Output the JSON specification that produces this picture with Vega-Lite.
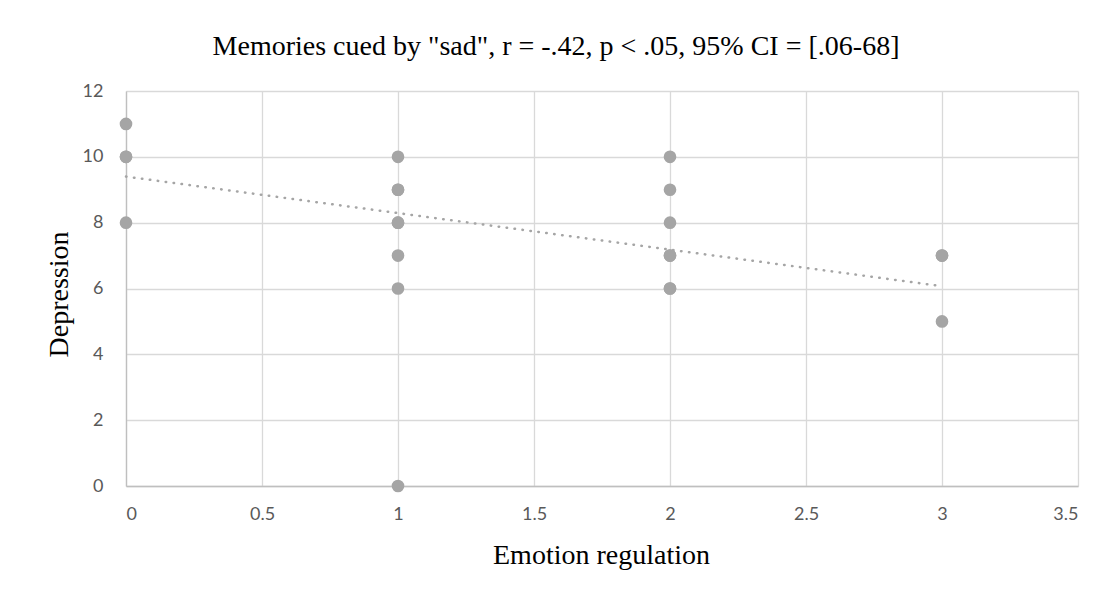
{
  "$schema": "https://vega.github.io/schema/vega-lite/v6.json",
  "width": 952,
  "height": 395,
  "autosize": {"type": "none"},
  "padding": {"left": 126, "top": 91, "right": 30, "bottom": 113},
  "background": "white",
  "config": {"view": {"stroke": null}},
  "title": {
    "text": "Memories cued by \"sad\", r = -.42, p < .05, 95% CI = [.06-68]",
    "font": "Liberation Serif",
    "fontSize": 28,
    "fontWeight": "normal",
    "color": "#000000",
    "anchor": "middle",
    "frame": "group",
    "baseline": "alphabetic",
    "offset": -1,
    "dx": -46
  },
  "datasets": {
    "pts": [
      {"er": 0, "dep": 11}, {"er": 0, "dep": 10}, {"er": 0, "dep": 10}, {"er": 0, "dep": 8},
      {"er": 1, "dep": 10}, {"er": 1, "dep": 9}, {"er": 1, "dep": 9}, {"er": 1, "dep": 8}, {"er": 1, "dep": 8},
      {"er": 1, "dep": 7}, {"er": 1, "dep": 6}, {"er": 1, "dep": 0},
      {"er": 2, "dep": 10}, {"er": 2, "dep": 9}, {"er": 2, "dep": 8}, {"er": 2, "dep": 7}, {"er": 2, "dep": 7},
      {"er": 2, "dep": 6}, {"er": 2, "dep": 6},
      {"er": 3, "dep": 7}, {"er": 3, "dep": 7}, {"er": 3, "dep": 5}
    ],
    "trend": [
      {"er": 0, "dep": 9.4},
      {"er": 3, "dep": 6.07}
    ]
  },
  "layer": [
    {
      "data": {"name": "trend"},
      "mark": {"type": "line", "color": "#A5A5A5", "strokeWidth": 2.5, "strokeDash": [0.5, 7.5], "strokeCap": "round"},
      "encoding": {
        "x": {"field": "er", "type": "quantitative"},
        "y": {"field": "dep", "type": "quantitative"}
      }
    },
    {
      "data": {"name": "pts"},
      "mark": {"type": "point", "filled": true, "opacity": 1, "color": "#A5A5A5", "size": 160, "shape": "circle"},
      "encoding": {
        "x": {
          "field": "er", "type": "quantitative",
          "scale": {"domain": [0, 3.5], "nice": false, "zero": false},
          "axis": {
            "title": "Emotion regulation",
            "values": [0, 0.5, 1, 1.5, 2, 2.5, 3, 3.5],
            "format": "~g",
            "domain": true,
            "domainColor": "#BFBFBF",
            "domainWidth": 1.3,
            "ticks": false,
            "grid": true,
            "gridColor": "#D9D9D9",
            "gridWidth": 1.3,
            "labelFont": "Lato",
            "labelFontSize": 18,
            "labelColor": "#595959",
            "labelPadding": 19,
            "titleFont": "Liberation Serif",
            "titleFontSize": 28,
            "titleFontWeight": "normal",
            "titleColor": "#000000",
            "titleBaseline": "alphabetic",
            "titleY": 77,
            "titleX": 475
          }
        },
        "y": {
          "field": "dep", "type": "quantitative",
          "scale": {"domain": [0, 12], "nice": false},
          "axis": {
            "title": "Depression",
            "values": [0, 2, 4, 6, 8, 10, 12],
            "domain": true,
            "domainColor": "#BFBFBF",
            "domainWidth": 1.3,
            "ticks": false,
            "grid": true,
            "gridColor": "#D9D9D9",
            "gridWidth": 1.3,
            "labelFont": "Lato",
            "labelFontSize": 18,
            "labelColor": "#595959",
            "labelPadding": 23,
            "titleFont": "Liberation Serif",
            "titleFontSize": 28,
            "titleFontWeight": "normal",
            "titleColor": "#000000",
            "titleAngle": -90,
            "titleBaseline": "alphabetic",
            "titleX": -59,
            "titleY": 203,
            "titleAlign": "center"
          }
        }
      }
    }
  ]
}
